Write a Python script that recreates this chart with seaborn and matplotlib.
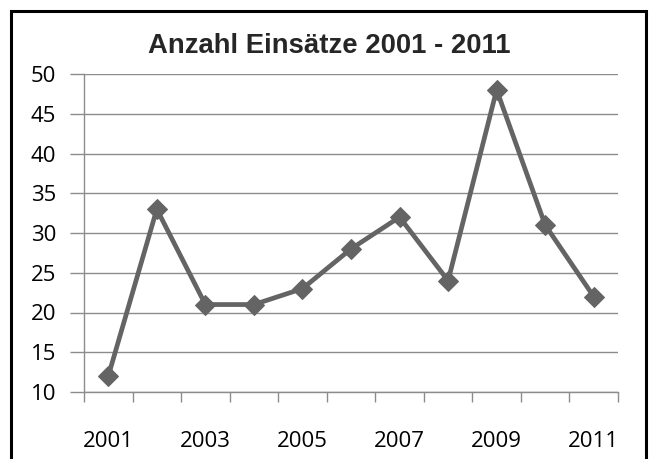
import matplotlib
matplotlib.use("Agg")
import matplotlib.pyplot as plt
import seaborn as sns
import pandas as pd
from matplotlib.patches import Rectangle

# chart data
years = [2001, 2002, 2003, 2004, 2005, 2006, 2007, 2008, 2009, 2010, 2011]
einsaetze = [12, 33, 21, 21, 23, 28, 32, 24, 48, 31, 22]
y_ticks = [10, 15, 20, 25, 30, 35, 40, 45, 50]
x_labels = ["2001", "", "2003", "", "2005", "", "2007", "", "2009", "", "2011"]

df = pd.DataFrame({"Jahr": years, "Einsätze": einsaetze})

sns.set_style("white")
plt.rcParams["font.family"] = ["Open Sans", "DejaVu Sans"]

fig = plt.figure(figsize=(6.52, 4.59), dpi=100)
ax = fig.add_axes([84 / 652, 1 - 392 / 459, (618 - 84) / 652, (392 - 74) / 459])

# gridlines
for v in y_ticks:
    ax.axhline(v, color="#8c8c8c", lw=1.0, zorder=0)

sns.lineplot(data=df, x="Jahr", y="Einsätze", ax=ax, color="#646464",
             linewidth=3.4, marker="D", markersize=10.5, markeredgecolor="#646464",
             zorder=3, clip_on=False)

ax.set_xlim(2000.5, 2011.5)
ax.set_ylim(10, 50)
ax.set_yticks(y_ticks)
ax.set_xticks(years)
ax.set_xticklabels(x_labels)
ax.set_xticks([y + 0.5 for y in [2000] + years], minor=True)
ax.tick_params(axis="x", which="major", bottom=True, length=0, pad=28,
               labelsize=16, labelcolor="#000000")
ax.tick_params(axis="x", which="minor", bottom=True, length=7, width=1,
               color="#8c8c8c", direction="out")
ax.tick_params(axis="y", length=10, width=1, color="#8c8c8c", direction="out",
               pad=10, labelsize=16, labelcolor="#000000", left=True)
ax.set_xlabel("")
ax.set_ylabel("")

for s in ["top", "right"]:
    ax.spines[s].set_visible(False)
for s in ["left", "bottom"]:
    ax.spines[s].set_color("#8c8c8c")
    ax.spines[s].set_linewidth(1.0)

fig.text(0.5 * (148 + 511) / 652, 1 - 46 / 459, "Anzahl Einsätze 2001 - 2011",
         ha="center", va="center", fontsize=19.8, fontweight="bold",
         family=["Liberation Sans", "DejaVu Sans"])

# outer frame (bottom edge cut off as in the picture)
fig.patches.append(Rectangle((11 / 652, -0.05), (646 - 11) / 652, 1.05 - 11 / 459,
                             transform=fig.transFigure, fill=False,
                             edgecolor="black", linewidth=2.2))

fig.savefig("out.png", dpi=100)
